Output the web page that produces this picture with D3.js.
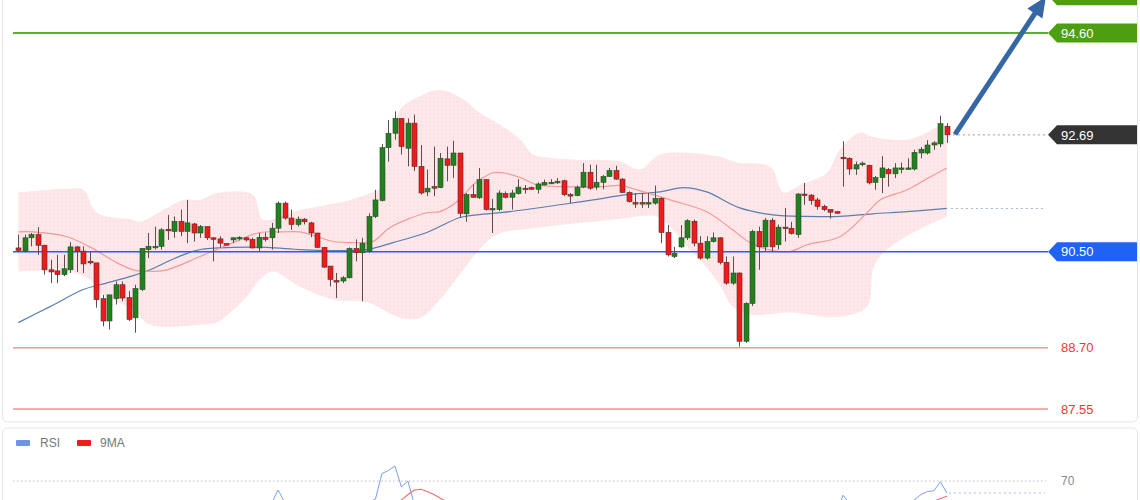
<!DOCTYPE html>
<html><head><meta charset="utf-8">
<script src="https://cdn.jsdelivr.net/npm/d3@7"></script>
<style>
body{margin:0;background:#fff;}
svg{display:block;font-family:"Liberation Sans",Arial,sans-serif;}
</style>
</head><body>
<svg id="c" width="1140" height="500"></svg>
<script>
// ---------- DATA ----------
const openP = [90.57,90.51,90.76,90.82,90.62,90.16,90.14,90.07,90.16,90.59,90.51,90.32,90.29,89.62,89.20,89.62,89.88,89.64,89.26,89.79,
90.54,90.58,90.60,90.92,90.88,91.07,90.88,91.02,90.85,90.97,90.76,90.74,90.65,90.72,90.74,90.76,90.73,90.57,90.77,90.76,
90.94,91.41,91.13,91.01,91.11,91.04,90.85,90.58,90.23,89.96,89.95,90.01,90.56,90.48,90.51,91.16,91.46,92.45,92.72,93.00,
92.44,92.91,92.10,91.62,91.72,91.70,92.24,92.12,92.35,91.21,91.57,91.51,91.85,91.30,91.29,91.59,91.52,91.59,91.69,91.70,
91.67,91.75,91.79,91.79,91.83,91.57,91.55,91.71,91.99,91.71,91.80,91.91,92.02,91.86,91.61,91.42,91.42,91.41,91.41,91.50,
90.86,90.41,90.59,90.76,91.07,90.66,90.38,90.69,90.76,90.30,89.91,90.10,88.82,89.53,90.88,90.59,91.09,90.63,90.96,90.94,
90.82,91.58,91.56,91.47,91.35,91.29,91.25,92.27,92.25,92.05,92.13,92.12,91.80,91.89,92.04,91.96,92.05,92.05,92.05,92.35,
92.35,92.50,92.52,92.85];
const highP = [90.82,90.82,90.85,90.96,90.63,90.35,90.44,90.44,90.68,90.60,90.60,90.51,90.29,89.69,89.69,89.94,89.94,89.76,89.88,90.57,
90.85,90.97,90.94,91.19,91.16,91.29,91.47,91.04,91.00,90.97,90.77,90.79,90.66,90.77,90.79,90.77,90.76,90.85,90.86,91.04,
91.44,91.44,91.29,91.16,91.13,91.06,90.85,90.58,90.23,90.10,90.04,90.58,90.73,90.76,91.22,91.66,92.52,92.97,93.13,93.00,
93.00,93.07,92.50,92.04,92.47,92.35,92.47,92.58,92.35,91.60,91.76,92.07,91.86,91.49,91.65,91.63,91.66,91.86,91.75,91.72,
91.80,91.85,91.86,91.88,91.85,91.60,91.74,92.16,92.13,92.13,91.94,92.07,92.11,91.88,91.63,91.60,91.60,91.60,91.74,91.52,
91.00,90.59,91.00,91.11,91.10,90.79,90.79,90.86,90.77,90.41,90.41,90.11,89.55,90.91,90.97,91.13,91.13,91.01,91.32,91.06,
91.60,91.79,91.58,91.51,91.38,91.29,91.26,92.57,92.27,92.19,92.19,92.13,91.92,92.29,92.07,92.16,92.17,92.25,92.41,92.46,
92.59,92.57,93.05,92.91];
const lowP = [90.49,90.49,90.60,90.44,90.07,89.91,89.91,90.04,90.10,90.12,90.10,90.26,89.45,89.10,89.04,89.51,89.57,89.20,88.98,89.76,
90.38,90.54,90.54,90.72,90.76,90.79,90.66,90.69,90.76,90.72,90.32,90.57,90.62,90.66,90.71,90.69,90.56,90.51,90.69,90.54,
90.85,91.10,90.91,90.97,91.01,90.77,90.57,90.20,89.85,89.63,89.91,90.00,90.32,89.57,90.48,91.13,91.44,92.19,92.60,92.32,
92.10,92.01,91.57,91.54,91.54,91.69,91.82,91.88,91.13,91.06,91.51,91.49,91.27,90.85,91.26,91.50,91.29,91.57,91.59,91.66,
91.59,91.74,91.77,91.77,91.54,91.41,91.54,91.69,91.66,91.66,91.67,91.90,91.85,91.60,91.42,91.32,91.32,91.32,91.38,90.66,
90.41,90.38,90.57,90.72,90.60,90.35,90.35,90.67,90.26,89.88,89.88,88.72,88.79,89.48,90.16,90.51,90.51,90.54,90.69,90.82,
90.76,91.38,91.38,91.29,91.26,91.12,91.21,91.72,91.94,91.94,92.10,91.76,91.66,91.60,91.72,91.88,91.97,92.04,92.02,92.25,
92.32,92.41,92.46,92.54];
const closeP = [90.52,90.76,90.82,90.62,90.16,90.12,90.07,90.18,90.59,90.51,90.27,90.29,89.60,89.20,89.69,89.88,89.63,89.23,89.81,90.56,
90.60,90.60,90.91,90.89,91.07,90.88,91.04,90.85,90.97,90.76,90.74,90.66,90.63,90.76,90.77,90.72,90.57,90.77,90.73,90.94,
91.41,91.13,91.01,91.11,91.06,90.85,90.58,90.21,89.98,89.93,90.01,90.56,90.48,90.66,91.16,91.47,92.45,92.72,93.00,92.47,
92.91,92.10,91.60,91.69,91.69,92.25,92.12,92.35,91.22,91.57,91.52,91.85,91.29,91.31,91.60,91.52,91.60,91.71,91.68,91.67,
91.77,91.80,91.80,91.82,91.57,91.55,91.71,91.99,91.69,91.80,91.91,92.02,91.86,91.61,91.44,91.41,91.41,91.42,91.50,90.86,
90.44,90.47,90.76,91.08,90.66,90.38,90.69,90.76,90.30,89.91,90.10,88.82,89.53,90.88,90.59,91.09,90.59,90.96,90.94,90.84,
91.58,91.56,91.46,91.35,91.29,91.24,91.22,92.25,92.05,92.13,92.16,91.79,91.89,92.07,91.96,92.07,92.07,92.07,92.36,92.42,
92.50,92.54,92.90,92.69];

// Bollinger band and moving averages, [candle index, value]
const bbUpper = [[0,91.61],[7.5,91.68],[10,91.66],[12.1,91.23],[17.7,91.10],[18.7,91.06],[25.4,91.47],[28,91.47],[30.6,91.60],[36.1,91.57],
[37.7,91.10],[42.3,91.25],[46,91.34],[51.1,91.47],[54.6,91.62],[55.7,91.70],[57.2,92.40],[58.8,93.16],[61.9,93.42],[64.9,93.53],
[68,93.40],[71.1,93.10],[74.2,92.88],[77.3,92.60],[79.3,92.32],[81.9,92.26],[86.5,92.22],[89.6,92.22],[92.7,92.19],[95.7,92.04],
[98.8,92.32],[103.4,92.35],[108,92.28],[110.7,92.17],[115.8,92.09],[117.8,91.61],[120.4,91.75],[124.5,91.98],[126.5,92.41],
[129.6,92.73],[131.6,92.65],[136.9,92.60],[139.9,92.73],[141.5,92.84],[143,92.88]];
const bbLower = [[0,90.13],[7.5,90.13],[11,89.98],[12.6,89.73],[17.7,89.41],[20.3,89.13],[28,89.13],[30.6,89.17],[33.1,89.41],[35.2,89.66],
[37.2,89.98],[39.2,90.13],[43.4,89.84],[48.5,89.60],[53.7,89.55],[58.8,89.26],[61.9,89.26],[64.9,89.60],[68,90.07],[70.6,90.48],
[73.7,90.82],[79.9,90.95],[91.6,91.10],[98.3,91.16],[100.4,90.97],[103,90.59],[105.4,90.29],[108,89.88],[110,89.47],[112.7,89.32],
[118.8,89.36],[126.5,89.28],[130.7,89.47],[131.6,90.16],[132.7,90.41],[135.8,90.72],[139.3,90.95],[143,91.16]];
const maShort = [[0,90.87],[2.3,90.87],[7.5,90.78],[11,90.59],[15.2,90.29],[17.7,90.16],[20.3,90.13],[22.9,90.16],[28,90.41],[33.1,90.67],
[37.2,90.86],[40.3,90.87],[43.4,90.87],[46,90.78],[48.5,90.69],[51.5,90.67],[54.6,90.69],[57.2,90.95],[62.9,91.23],[64.9,91.25],
[67.6,91.44],[70,91.75],[71.1,91.85],[73.1,91.98],[74.6,91.98],[77.3,91.89],[79.9,91.75],[83.9,91.72],[90,91.72],[92.7,91.74],
[95.3,91.66],[100.4,91.47],[106,91.25],[110,90.91],[112.7,90.67],[116.2,90.52],[118.8,90.50],[121.5,90.63],[126.5,90.78],
[130.7,91.23],[132.7,91.47],[136.9,91.66],[140.4,91.90],[143,92.07]];
const maLong = [[0,89.17],[4.9,89.47],[10,89.79],[12.6,89.88],[17.7,90.05],[20.3,90.16],[22.9,90.31],[25.4,90.44],[28,90.54],[33.1,90.58],
[38.3,90.58],[43.4,90.54],[48.5,90.52],[53.7,90.54],[57.7,90.67],[62.9,90.86],[68,91.14],[70.6,91.19],[75.7,91.25],[83.4,91.38],
[88.5,91.47],[93.7,91.57],[98.8,91.62],[102.4,91.70],[106,91.62],[111.1,91.32],[116.2,91.19],[121.5,91.16],[126.5,91.16],
[131.6,91.21],[136.9,91.25],[143,91.31]];

// Horizontal levels (the first one sits above the visible area; only its tag edge shows)
const levelValues = [95.30, 94.60, 92.69, 90.50, 88.70, 87.55];
const levelLabels = ["95.30","94.60","92.69","90.50","88.70","87.55"];
const levelKinds  = ["res","res","last","piv","sup","sup"];

// Forecast arrow [index, value]
const arrowFrom = [144.25, 92.70];
const arrowTo   = [158.25, 95.28];

// RSI panel
const rsi = [52,56,57,53,44, 43,42,45,52,50, 46,45,36,31,40, 44,41,36,46,56,
55,55,56,54,56, 52,55,52,54,51, 51,49,48,51,51, 50,47,51,50,55,
64,56,54,55,54, 50,44,38,34,37, 36,48,46,50,56,
58,75,77,80,66,70,54,
45,48,47,54,52, 55,42,48,47,52, 45,46,50,49,50, 52,51,51,53,54, 54,55,48,48,52,
56,49,51,53,55, 50,45,42,41,41, 41,43,32,28,31, 38,45,40,35,43, 46,39,33,38,25,
38,52,49,54,48, 53,53,50,56,56, 54,51,50,48,48,
60.5,
55,56,55,47,50, 54,52,54,55,55,
57.5,61,63,63.5,69.5,62];
const rsiMA = [50,50,51,51,50,49,48,47,47,48, 48,47,45,43,42,41,40,39,40,42,
44,47,50,52,54,55,56,56,56,56, 56,56,55,55,55,55,55,55,55,56,
56,56,56,56,56,55,53,51,49,47, 45,45,45,45,47,49,52,54,56,
57.3,61,64,64.5,63,61,58.5,56,
55,53,51,50,49,48,48,48,48,49, 49,50,50,51,51,52,52,52,51,51,
52,52,52,53,53,52,51,49,47,45, 43,42,40,38,36,35,35,35,36,37,
38,38,38,37,35,36,38,40,43,46, 48,50,51,53,53,53,53,52,52,52,
53,53,54,54,53,53,53,53,53,53, 54,54,55,55.5,56.5,58.3,59.8];
const rsiLevel = 70;

// ---------- DRAW ----------
const svg = d3.select("#c");
const n = closeP.length;
const x = d3.scaleLinear().domain([0, n - 1]).range([18.3, 946.9]);
const y = d3.scaleLinear().domain([87.55, 94.60]).range([409, 33]);
const yr = d3.scaleLinear().domain([0, 100]).range([586, 436]);

const defs = svg.append("defs");
const pat = defs.append("pattern").attr("id","dots").attr("width",4).attr("height",4)
  .attr("patternUnits","userSpaceOnUse");
pat.append("rect").attr("width",4).attr("height",4).attr("fill","#fde7e9");
pat.append("rect").attr("x",1).attr("y",1).attr("width",1).attr("height",1).attr("fill","#f8d5d8");
defs.append("clipPath").attr("id","mainClip").append("rect").attr("x",3).attr("y",0).attr("width",1134).attr("height",421);
defs.append("clipPath").attr("id","rsiClip").append("rect").attr("x",3).attr("y",429).attr("width",1134).attr("height",80);

// panel frames
svg.append("rect").attr("x",2.5).attr("y",-10).attr("width",1135).attr("height",432).attr("rx",5)
  .attr("fill","#fff").attr("stroke","#e2e8e2");
svg.append("rect").attr("x",2.5).attr("y",428).attr("width",1135).attr("height",100).attr("rx",5)
  .attr("fill","#fff").attr("stroke","#e2e8e2");

const main = svg.append("g").attr("clip-path","url(#mainClip)");

// Bollinger band
const cr = d3.line().x(d => x(d[0])).y(d => y(d[1])).curve(d3.curveCatmullRom);
const upPath = cr(bbUpper);
const loPath = cr(bbLower.slice().reverse()).replace(/^M/, "L");
main.append("path").attr("d", upPath + loPath + "Z").attr("fill","url(#dots)").attr("stroke","none");

// moving averages
main.append("path").attr("d", cr(maLong)).attr("fill","none").attr("stroke","#5a7eb2").attr("stroke-width",1.2);
main.append("path").attr("d", cr(maShort)).attr("fill","none").attr("stroke","#f39a9a").attr("stroke-width",1.2);

// levels
const levelStyle = {
  res:  {line:"#5fae27", box:"#4d9f0f", w:2, text:"#fff"},
  last: {line:null, box:"#333333", w:0, text:"#fff"},
  piv:  {line:"#1f5fff", box:"#1f62f4", w:1.5, text:"#fff"},
  sup:  {line:"#f29595", box:null, w:1.5, text:"#ff3333"}
};
const lineX0 = 13, lineX1 = 1048;
levelValues.forEach((v, k) => {
  const st = levelStyle[levelKinds[k]];
  const yy = y(v);
  if (st.line) {
    main.append("line").attr("x1",lineX0).attr("x2",lineX1).attr("y1",yy).attr("y2",yy)
      .attr("stroke",st.line).attr("stroke-width",st.w);
  }
});

// dotted markers (last close, long MA)
const lastIdx = n - 1;
main.append("line").attr("x1", x(lastIdx) + 6).attr("x2", 1045)
  .attr("y1", y(closeP[lastIdx])).attr("y2", y(closeP[lastIdx]))
  .attr("stroke","#9a9a9a").attr("stroke-width",1).attr("stroke-dasharray","2,3");
const maLast = maLong[maLong.length - 1][1];
main.append("line").attr("x1", x(lastIdx) + 4).attr("x2", 1045)
  .attr("y1", y(maLast)).attr("y2", y(maLast))
  .attr("stroke","#9eb2d0").attr("stroke-width",1).attr("stroke-dasharray","2,3");

// candles
const bw = 5;
const cg = main.append("g");
d3.range(n).forEach(i => {
  const up = closeP[i] >= openP[i];
  const cx = Math.round(x(i)) + 0.5;
  cg.append("line").attr("x1",cx).attr("x2",cx).attr("y1",y(highP[i])).attr("y2",y(lowP[i]))
    .attr("stroke","#5e4d4d").attr("stroke-width",1);
  const top = y(Math.max(openP[i], closeP[i]));
  const bot = y(Math.min(openP[i], closeP[i]));
  cg.append("rect").attr("x", cx - bw/2).attr("y", top).attr("width", bw).attr("height", Math.max(1.5, bot - top))
    .attr("fill", up ? "#22801f" : "#ee1b1b").attr("stroke", up ? "#2d4a2b" : "#5a2a2a").attr("stroke-width",0.6);
});

// arrow
const ax0 = x(arrowFrom[0]), ay0 = y(arrowFrom[1]);
const ax1 = x(arrowTo[0]),   ay1 = y(arrowTo[1]);
const ang = Math.atan2(ay1 - ay0, ax1 - ax0);
const headL = 20, headW = 9;
const bx = ax1 - headL * Math.cos(ang), by = ay1 - headL * Math.sin(ang);
svg.append("line").attr("x1",ax0).attr("y1",ay0).attr("x2",bx + 2*Math.cos(ang)).attr("y2",by + 2*Math.sin(ang))
  .attr("stroke","#3566a6").attr("stroke-width",5);
svg.append("path").attr("d", d3.line()([
  [ax1, ay1],
  [bx + headW * Math.sin(ang), by - headW * Math.cos(ang)],
  [bx - headW * Math.sin(ang), by + headW * Math.cos(ang)]
]) + "Z").attr("fill","#3566a6");

// level labels (text only when the tag is inside the picture)
levelValues.forEach((v, k) => {
  const st = levelStyle[levelKinds[k]];
  const yy = y(v);
  if (st.box) {
    const h = 9.5;
    svg.append("path").attr("d",
      `M1048,${yy} L1057,${yy-h} L1137,${yy-h} L1137,${yy+h} L1057,${yy+h} Z`).attr("fill", st.box);
  }
  if (yy - 8 >= 0) {
    svg.append("text").attr("x",1061).attr("y",yy).attr("dy","0.36em")
      .attr("font-size",13).attr("fill",st.text).text(levelLabels[k]);
  }
});

// RSI panel
const leg = svg.append("g");
leg.append("rect").attr("x",16).attr("y",440).attr("width",14).attr("height",6).attr("rx",1).attr("fill","#6f93e6");
leg.append("text").attr("x",40).attr("y",443).attr("dy","0.36em").attr("font-size",12).attr("fill","#777").text("RSI");
leg.append("rect").attr("x",77).attr("y",440).attr("width",14).attr("height",6).attr("rx",1).attr("fill","#f01c1c");
leg.append("text").attr("x",100).attr("y",443).attr("dy","0.36em").attr("font-size",12).attr("fill","#777").text("9MA");

const rg = svg.append("g").attr("clip-path","url(#rsiClip)");
rg.append("line").attr("x1",13).attr("x2",1046).attr("y1",yr(rsiLevel)).attr("y2",yr(rsiLevel))
  .attr("stroke","#b7bfcc").attr("stroke-width",1).attr("stroke-dasharray","1.5,2.5");
svg.append("text").attr("x",1061).attr("y",yr(rsiLevel)).attr("dy","0.36em").attr("font-size",12)
  .attr("fill","#888").text(String(rsiLevel));
const rl = d3.line().x((d,i) => x(i)).y(d => yr(d));
rg.append("path").attr("d", rl(rsiMA)).attr("fill","none").attr("stroke","#f06b6b").attr("stroke-width",1.1);
rg.append("path").attr("d", rl(rsi)).attr("fill","none").attr("stroke","#7c9ee6").attr("stroke-width",1);
rg.append("line").attr("x1", x(lastIdx) + 2).attr("x2",1045).attr("y1", yr(rsi[lastIdx])).attr("y2", yr(rsi[lastIdx]))
  .attr("stroke","#a9bde8").attr("stroke-width",1).attr("stroke-dasharray","2,3");
</script>
</body></html>
